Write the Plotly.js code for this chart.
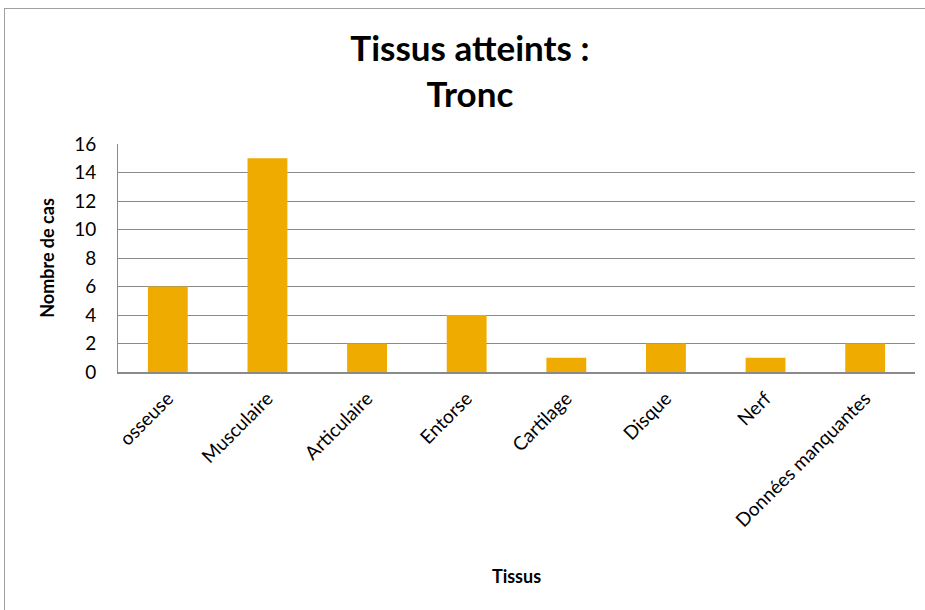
<!DOCTYPE html>
<html>
<head>
<meta charset="utf-8">
<script src="https://cdn.plot.ly/plotly-3.0.1.min.js"></script>
<style>
html, body { margin: 0; padding: 0; background: #fff; }
#frame { position: absolute; left: 4px; top: 8px; width: 940px; height: 620px; border: 1px solid #a0a0a0; box-sizing: border-box; }
#chart { position: absolute; left: 0; top: 0; width: 925px; height: 610px; }
</style>
</head>
<body>
<div id="frame"></div>
<div id="chart"></div>
<script>
const categories = ["osseuse", "Musculaire", "Articulaire", "Entorse", "Cartilage", "Disque", "Nerf", "Données manquantes"];
const values = [6, 15, 2, 4, 1, 2, 1, 2];
const yTicks = [0, 2, 4, 6, 8, 10, 12, 14, 16];

const font = "Lato, 'Open Sans', sans-serif";

Plotly.newPlot("chart", [{
  type: "bar",
  x: categories,
  y: values,
  marker: { color: "#F0AB00" },
  hoverinfo: "x+y"
}], {
  width: 925,
  height: 610,
  paper_bgcolor: "rgba(0,0,0,0)",
  plot_bgcolor: "rgba(0,0,0,0)",
  margin: { l: 118, r: 10, t: 144, b: 238 },
  bargap: 0.6,
  showlegend: false,
  font: { family: font, color: "#000" },
  title: {
    text: "<b>Tissus atteints :</b><br><b>Tronc</b>",
    font: { family: font, size: 35, color: "#000" },
    x: 0.508, xref: "container", xanchor: "center",
    y: 0.90, yref: "container", yanchor: "top"
  },
  xaxis: {
    type: "category",
    tickangle: -45,
    tickfont: { family: font, size: 19, color: "#000" },
    showline: true, linecolor: "#8a8a8a", linewidth: 2,
    ticks: "", showgrid: false, ticklabelstandoff: 6,
    title: { text: "<b>Tissus</b>", font: { family: font, size: 18, color: "#000" }, standoff: 40 },
    automargin: false
  },
  yaxis: {
    range: [0, 16],
    tickvals: yTicks,
    ticktext: yTicks.map(String),
    tickfont: { family: font, size: 19, color: "#000" },
    showline: true, linecolor: "#8a8a8a", linewidth: 1,
    showgrid: true, gridcolor: "#8a8a8a", gridwidth: 1,
    zeroline: false,
    ticks: "", ticklabelstandoff: 17,
    title: { text: "<b>Nombre de cas</b>", font: { family: font, size: 18, color: "#000" }, standoff: 14 },
    automargin: false
  }
}, { displayModeBar: false, staticPlot: true });
</script>
</body>
</html>
